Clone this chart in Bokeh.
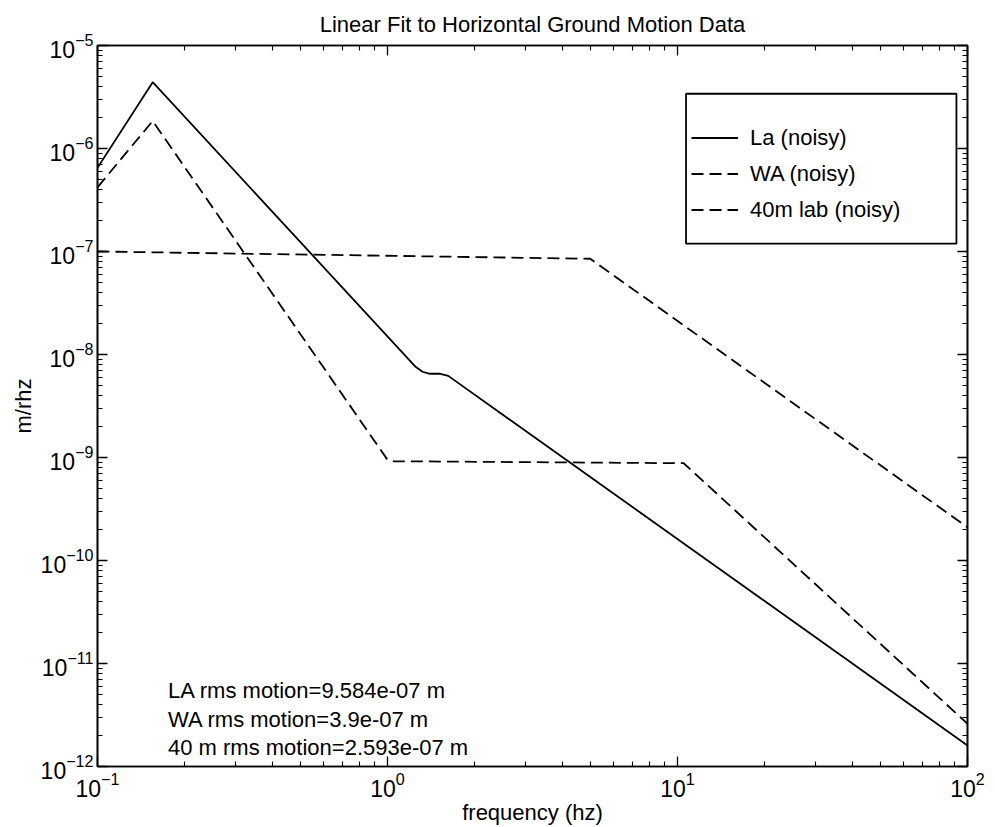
from bokeh.plotting import figure
from bokeh.models import LogAxis, FixedTicker, Legend, LegendItem, BoxAnnotation, Label
from bokeh.embed import file_html
from bokeh.resources import INLINE

# ---- data ----
freq_la = [0.1, 0.155, 1.25, 1.32, 1.40, 1.52, 1.62, 100.0]
amp_la = [6.5e-7, 4.4e-6, 7.6e-9, 6.8e-9, 6.5e-9, 6.5e-9, 6.2e-9, 1.6e-12]

freq_wa = [0.1, 0.155, 1.0, 1.05, 10.5, 100.0]
amp_wa = [4.2e-7, 1.85e-6, 9.5e-10, 9.2e-10, 8.8e-10, 2.6e-12]

freq_40m = [0.1, 5.0, 100.0]
amp_40m = [1.0e-7, 8.5e-8, 2.1e-10]

series_names = ["La (noisy)", "WA (noisy)", "40m lab (noisy)"]
rms_notes = ["LA rms motion=9.584e-07 m",
             "WA rms motion=3.9e-07 m",
             "40 m rms motion=2.593e-07 m"]
note_y = [5.5e-12, 2.85e-12, 1.53e-12]
note_x = 0.175

x_major = [0.1, 1.0, 10.0, 100.0]
x_minor = [m * d for d in (0.1, 1.0, 10.0) for m in range(2, 10)]
y_major = [10.0 ** e for e in range(-12, -4)]
y_minor = [m * 10.0 ** e for e in range(-12, -5) for m in range(2, 10)]

FONT = "Liberation Sans"

p = figure(width=995, height=827, x_axis_type="log", y_axis_type="log",
           x_range=(0.1, 100), y_range=(1e-12, 1e-5),
           output_backend="svg", toolbar_location=None,
           min_border_left=97, min_border_right=28,
           min_border_top=42, min_border_bottom=55)

p.title.text = "Linear Fit to Horizontal Ground Motion Data"
p.title.align = "center"
p.title.text_font = FONT
p.title.text_font_style = "normal"
p.title.text_font_size = "22px"
p.title.text_color = "black"
p.title.offset = 0
p.title.standoff = 18

p.grid.visible = False
p.outline_line_color = "black"
p.outline_line_width = 1.6
p.background_fill_color = "white"
p.border_fill_color = "white"

def style_axis(ax, major, minor, show_labels):
    ax.ticker = FixedTicker(ticks=major, minor_ticks=minor)
    ax.axis_line_color = "black"
    ax.axis_line_width = 1.6
    ax.major_tick_line_color = "black"
    ax.major_tick_line_width = 1.3
    ax.minor_tick_line_color = "black"
    ax.minor_tick_line_width = 1.1
    ax.major_tick_in = 10
    ax.major_tick_out = 0
    ax.minor_tick_in = 5
    ax.minor_tick_out = 0
    ax.major_label_text_font = FONT
    ax.major_label_text_font_size = "23px"
    ax.major_label_text_color = "black"
    ax.axis_label_text_font = FONT
    ax.axis_label_text_font_size = "22px"
    ax.axis_label_text_font_style = "normal"
    ax.axis_label_text_color = "black"
    if not show_labels:
        ax.major_label_text_alpha = 0
        ax.major_label_text_font_size = "1px"
        ax.major_label_standoff = 0

style_axis(p.xaxis[0], x_major, x_minor, True)
style_axis(p.yaxis[0], y_major, y_minor, True)
p.xaxis[0].axis_label = "frequency (hz)"
p.yaxis[0].axis_label = "m/rhz"
p.xaxis[0].major_label_standoff = 5
p.yaxis[0].major_label_standoff = 4
p.xaxis[0].axis_label_standoff = 0
p.yaxis[0].axis_label_standoff = 2

top_ax = LogAxis()
right_ax = LogAxis()
style_axis(top_ax, x_major, x_minor, False)
style_axis(right_ax, y_major, y_minor, False)
p.add_layout(top_ax, "above")
p.add_layout(right_ax, "right")

r_la = p.line(freq_la, amp_la, line_color="black", line_width=1.8)
r_wa = p.line(freq_wa, amp_wa, line_color="black", line_width=1.8, line_dash="12 6")
r_40 = p.line(freq_40m, amp_40m, line_color="black", line_width=1.8, line_dash="12 6")

# legend frame
box = BoxAnnotation(left=10.7, right=91.6, top=3.4e-6, bottom=1.19e-7,
                    fill_color="white", fill_alpha=1.0,
                    line_color="black", line_alpha=1.0, line_width=1.8,
                    level="overlay")
p.add_layout(box)

legend = Legend(items=[LegendItem(label=series_names[0], renderers=[r_la]),
                       LegendItem(label=series_names[1], renderers=[r_wa]),
                       LegendItem(label=series_names[2], renderers=[r_40])],
                location=(594, 540), padding=0, margin=0, spacing=3,
                glyph_width=47, glyph_height=33, label_height=33,
                label_standoff=12, label_text_font=FONT,
                label_text_font_size="22px", label_text_color="black",
                border_line_alpha=0, background_fill_alpha=0)
p.add_layout(legend, "center")

for t, yv in zip(rms_notes, note_y):
    p.add_layout(Label(x=note_x, y=yv, text=t, text_font=FONT,
                       text_font_size="22px", text_color="black",
                       text_baseline="middle", text_align="left"))

open("out.html", "w").write(file_html(p, INLINE))
